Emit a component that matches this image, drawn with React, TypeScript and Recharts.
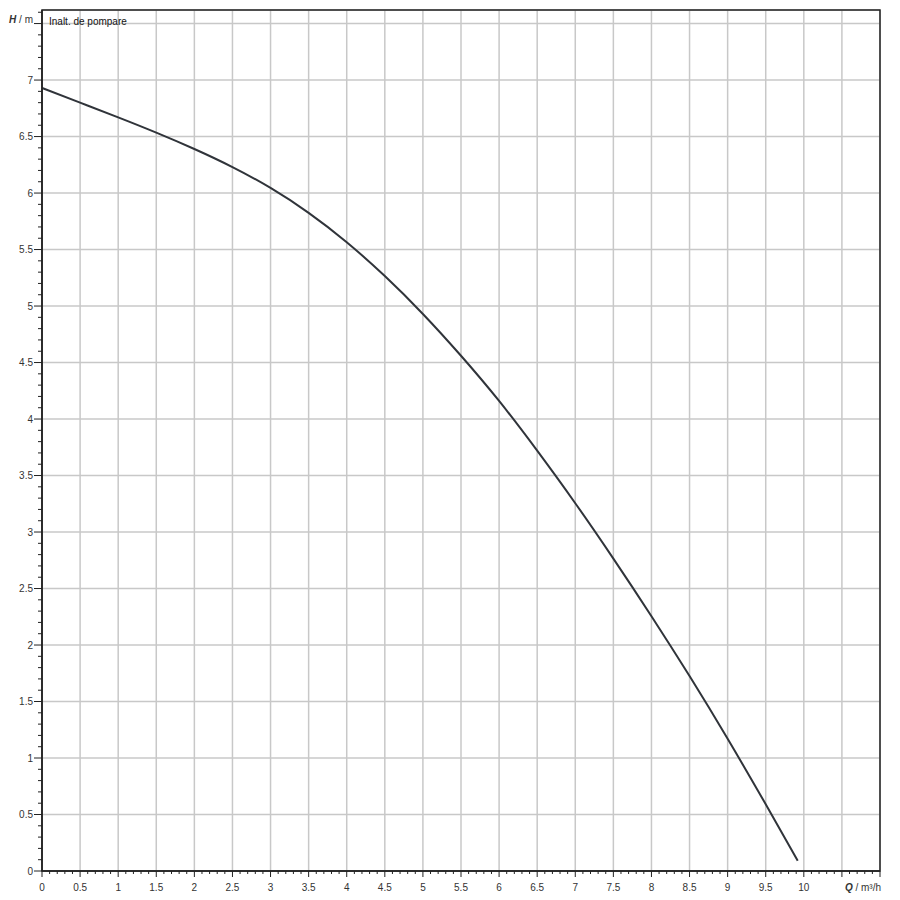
import { LineChart, Line, XAxis, YAxis, CartesianGrid, ReferenceArea } from "recharts";

// Q in m³/h and H in m
const flow = [0, 0.5, 1, 1.5, 2, 2.5, 3, 3.5, 4, 4.5, 5, 5.5, 6, 6.5, 7, 7.5, 8, 8.5, 9, 9.5, 9.92];
const head = [6.93, 6.8, 6.67, 6.535, 6.39, 6.23, 6.045, 5.825, 5.565, 5.265, 4.93, 4.56, 4.16, 3.72, 3.255, 2.765, 2.255, 1.725, 1.17, 0.59, 0.09];

const X_MAX = 11;
const Y_MAX = 7.62;

const xMajor = [0, 0.5, 1, 1.5, 2, 2.5, 3, 3.5, 4, 4.5, 5, 5.5, 6, 6.5, 7, 7.5, 8, 8.5, 9, 9.5, 10, 10.5, 11];
const yMajor = [0, 0.5, 1, 1.5, 2, 2.5, 3, 3.5, 4, 4.5, 5, 5.5, 6, 6.5, 7, 7.5];

// minor ticks every 0.1
const xMinor: number[] = [];
for (let i = 0; i <= 110; i++) xMinor.push(i / 10);
const yMinor: number[] = [];
for (let i = 0; i <= 76; i++) yMinor.push(i / 10);

const data = flow.map((q, i) => ({ q, h: head[i] }));

const FONT = "'Liberation Sans', Arial, sans-serif";
const INK = "#222";
const LABEL = "#333";

const isMajor = (v: number) => Math.round(v * 10) % 5 === 0;

function XTick({ x, y, payload }: any) {
    const v = payload.value;
    const major = isMajor(v);
    return (
        <g>
            <line x1={x} x2={x} y1={y} y2={y + (major ? 6 : 3)} stroke={INK} strokeWidth={1} />
            {major && v <= 10 && (
                <text x={x} y={y + 20} textAnchor="middle" fontSize={10} fontFamily={FONT} fill={LABEL}>
                    {String(v)}
                </text>
            )}
            {v === X_MAX && (
                <text x={x + 1} y={y + 20} textAnchor="end" fontSize={10} fontFamily={FONT} fill={LABEL}>
                    <tspan fontStyle="italic" fontWeight="bold">Q</tspan> / m³/h
                </text>
            )}
        </g>
    );
}

function YTick({ x, y, payload }: any) {
    const v = payload.value;
    const major = isMajor(v);
    const top = Math.abs(v - 7.5) < 0.001;
    return (
        <g>
            <line x1={x - (major ? 8 : 4)} x2={x} y1={y} y2={y} stroke={INK} strokeWidth={1} />
            {major && !top && (
                <text x={x - 9} y={y + 3.5} textAnchor="end" fontSize={10} fontFamily={FONT} fill={LABEL}>
                    {String(v)}
                </text>
            )}
            {top && (
                <>
                    <text x={x - 9} y={y - 1} textAnchor="end" fontSize={10} fontFamily={FONT} fill={LABEL}>
                        <tspan fontStyle="italic" fontWeight="bold">H</tspan> / m
                    </text>
                    <text x={x + 7} y={y + 1.5} fontSize={10} fontFamily={FONT} fill="#111">
                        Inalt. de pompare
                    </text>
                </>
            )}
        </g>
    );
}

export default function App() {
    return (
        <div style={{ position: "absolute", left: 0, top: 0, width: 900, height: 900, background: "#fff" }}>
            <LineChart width={900} height={900} data={data} margin={{ top: 10, right: 20, bottom: 0, left: 0 }}>
                {/* hidden axes that only feed the 0.5 grid */}
                <XAxis xAxisId="grid" type="number" dataKey="q" domain={[0, X_MAX]} ticks={xMajor} allowDataOverflow hide />
                <YAxis yAxisId="grid" type="number" domain={[0, Y_MAX]} ticks={yMajor} allowDataOverflow hide />
                <CartesianGrid xAxisId="grid" yAxisId="grid" stroke="#c8c8c8" strokeWidth={1.5} />

                <XAxis
                    type="number"
                    dataKey="q"
                    domain={[0, X_MAX]}
                    ticks={xMinor}
                    interval={0}
                    allowDataOverflow
                    height={29}
                    tickSize={0}
                    tickMargin={0}
                    axisLine={{ stroke: INK, strokeWidth: 1.5 }}
                    tick={<XTick />}
                />
                <YAxis
                    type="number"
                    domain={[0, Y_MAX]}
                    ticks={yMinor}
                    interval={0}
                    allowDataOverflow
                    width={42}
                    tickSize={0}
                    tickMargin={0}
                    axisLine={{ stroke: INK, strokeWidth: 1.5 }}
                    tick={<YTick />}
                />

                <ReferenceArea x1={0} x2={X_MAX} y1={0} y2={Y_MAX} fill="none" stroke={INK} strokeWidth={1.5} ifOverflow="visible" />

                <Line
                    type="natural"
                    dataKey="h"
                    stroke="#30343a"
                    strokeWidth={2}
                    dot={false}
                    isAnimationActive={false}
                />
            </LineChart>
        </div>
    );
}
